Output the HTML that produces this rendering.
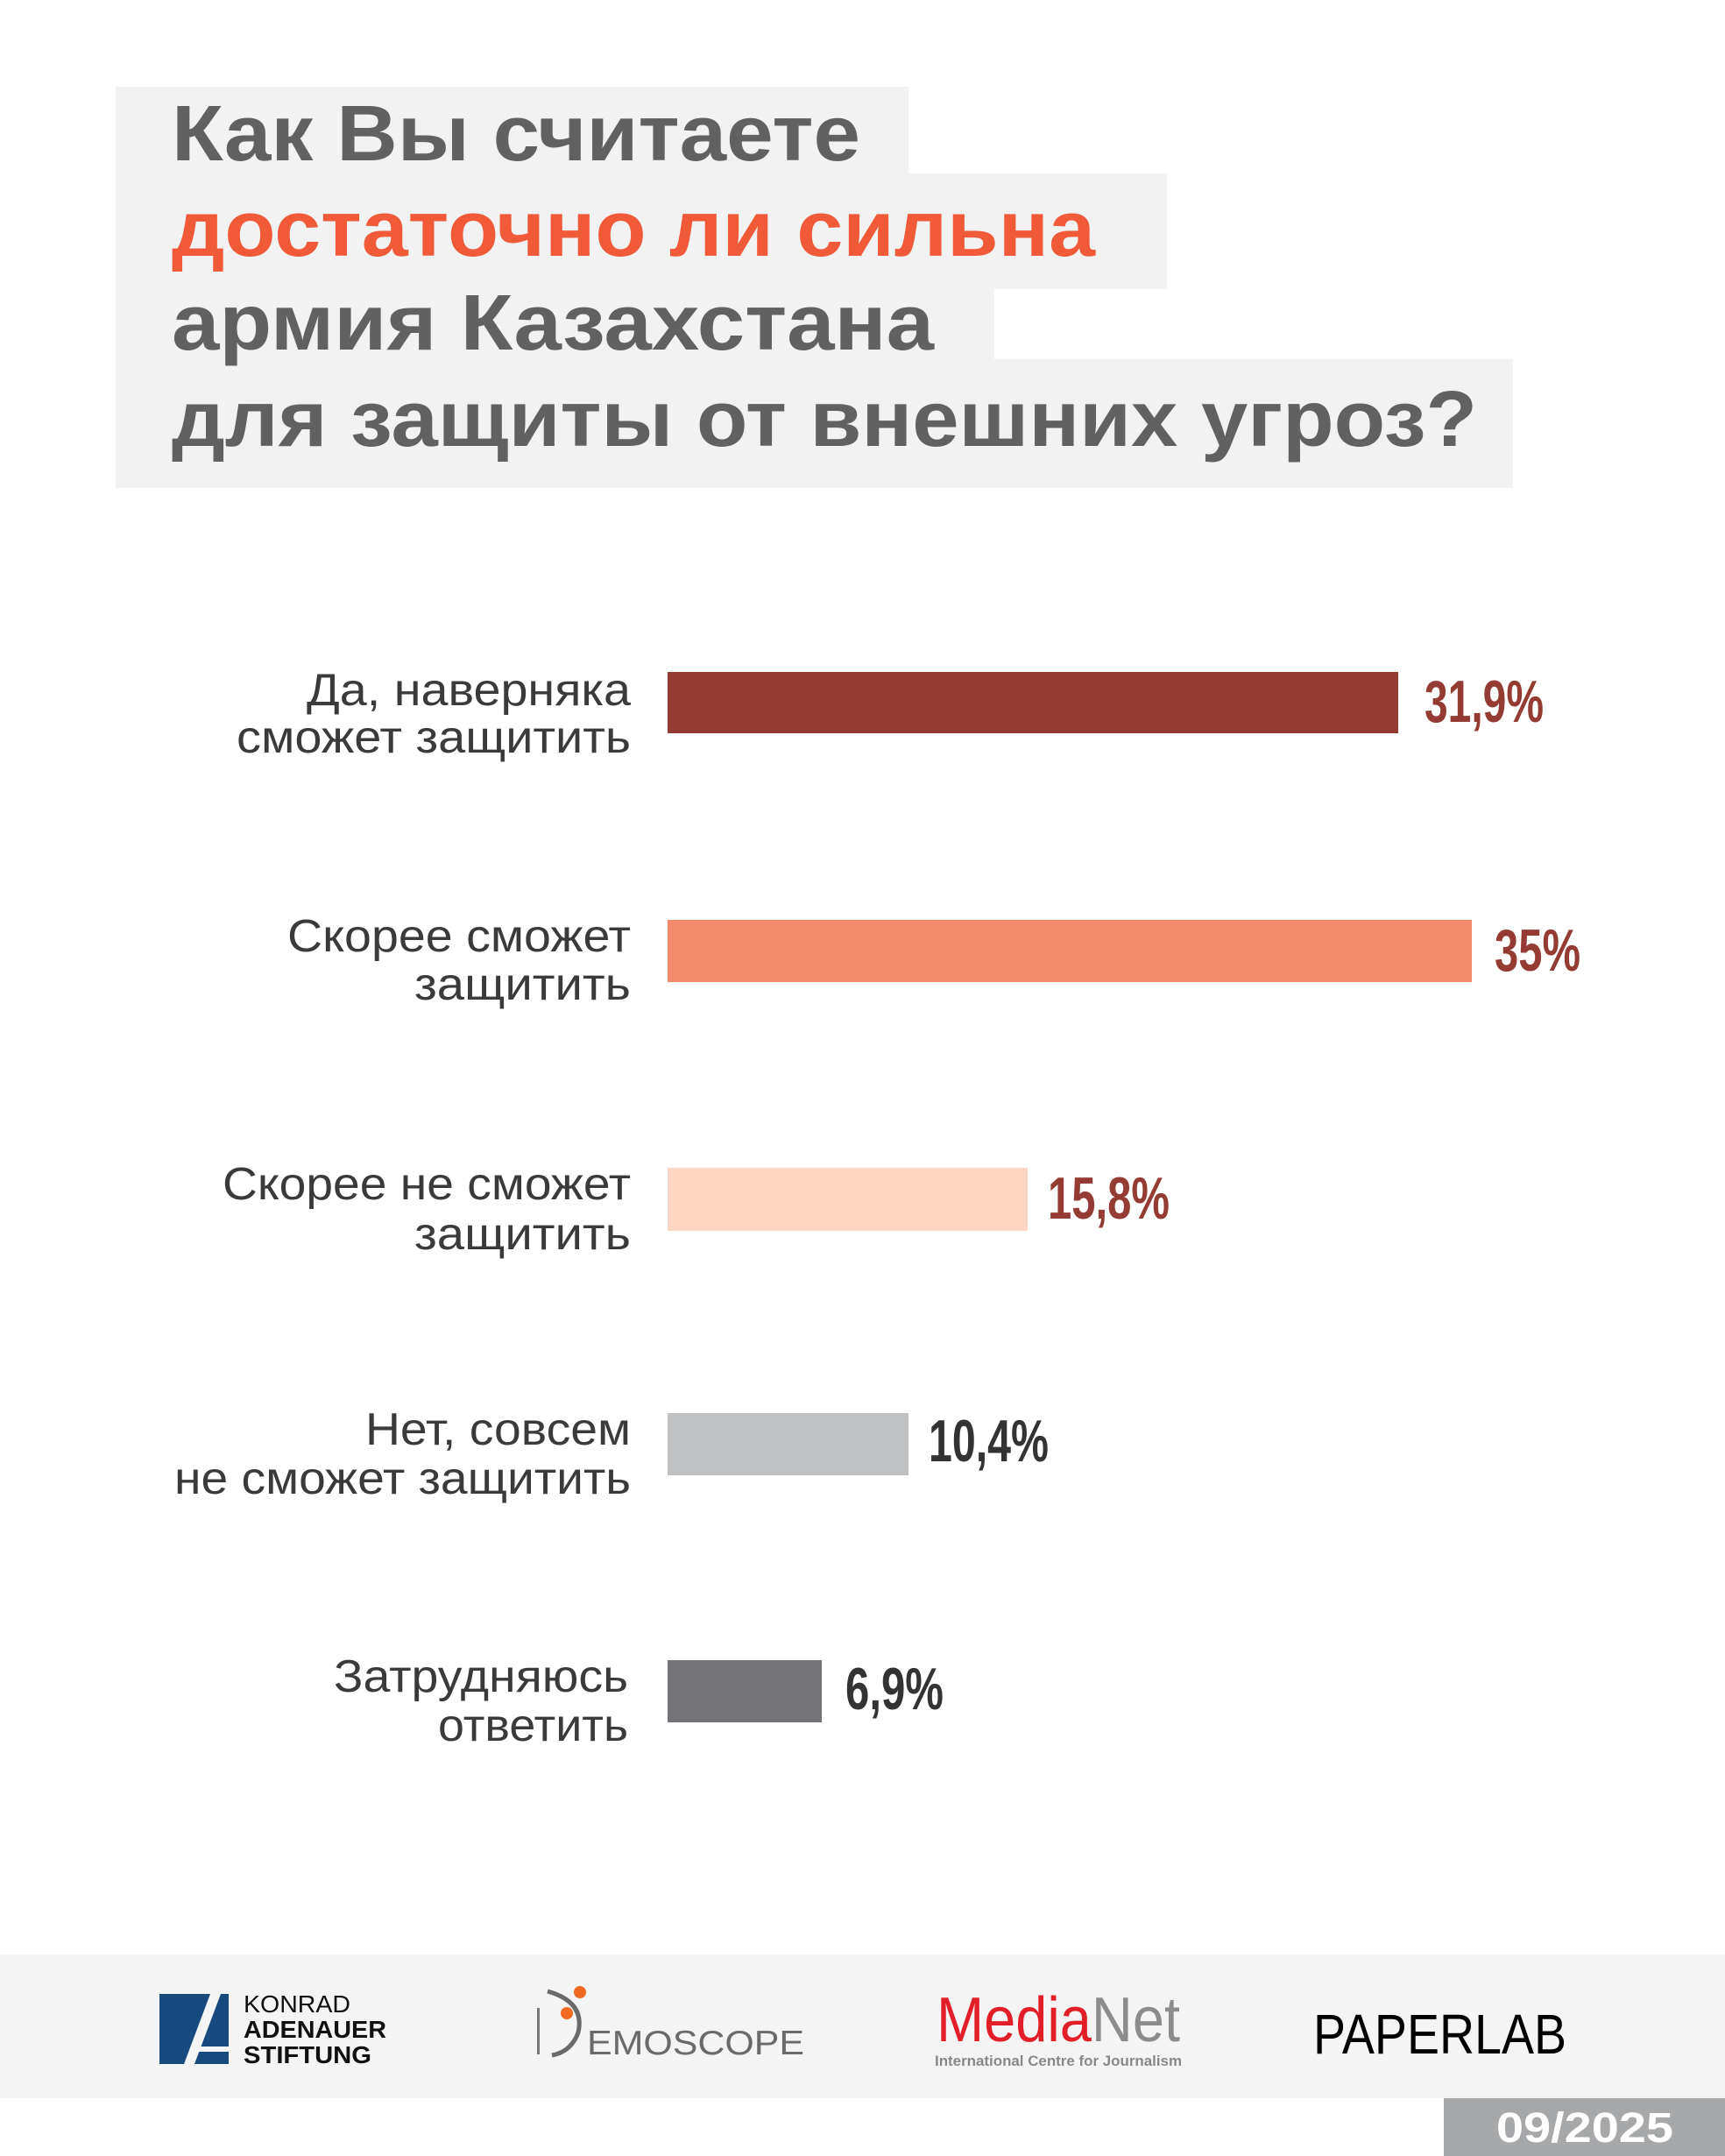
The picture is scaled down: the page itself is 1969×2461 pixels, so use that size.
<!DOCTYPE html>
<html><head><meta charset="utf-8"><style>
html,body{margin:0;padding:0;background:#fff;}
svg{display:block;}
</style></head><body>
<svg width="1969" height="2461" viewBox="0 0 1969 2461" xmlns="http://www.w3.org/2000/svg">
<rect width="1969" height="2461" fill="#fff"/>
<!-- title background -->
<rect x="132" y="99" width="905" height="100" fill="#f1f2f1"/>
<rect x="132" y="198" width="1200" height="132" fill="#f1f2f1"/>
<rect x="132" y="329" width="1003" height="82" fill="#f1f2f1"/>
<rect x="132" y="410" width="1595" height="147" fill="#f1f2f1"/>
<g font-family="'Liberation Sans', sans-serif" font-weight="bold" font-size="90">
<text x="196" y="183" fill="#616161" textLength="786" lengthAdjust="spacingAndGlyphs">Как Вы считаете</text>
<text x="196" y="292" fill="#f05a38" textLength="1054" lengthAdjust="spacingAndGlyphs">достаточно ли сильна</text>
<text x="196" y="399" fill="#616161" textLength="870" lengthAdjust="spacingAndGlyphs">армия Казахстана</text>
<text x="196" y="509" fill="#616161" textLength="1490" lengthAdjust="spacingAndGlyphs">для защиты от внешних угроз?</text>
</g>
<!-- bars -->
<rect x="762" y="767" width="834" height="70" fill="#943c33"/>
<rect x="762" y="1050" width="918" height="71" fill="#f48a6c"/>
<rect x="762" y="1333" width="411" height="72" fill="#fdd5c3"/>
<rect x="762" y="1613" width="275" height="71" fill="#bfc0c2"/>
<rect x="762" y="1895" width="176" height="71" fill="#737377"/>
<!-- labels -->
<g font-family="'Liberation Sans', sans-serif" font-size="52" fill="#3a3a3a" text-anchor="end">
<text x="720" y="805" textLength="370" lengthAdjust="spacingAndGlyphs">Да, наверняка</text>
<text x="720" y="859" textLength="450" lengthAdjust="spacingAndGlyphs">сможет защитить</text>
<text x="720" y="1086" textLength="392" lengthAdjust="spacingAndGlyphs">Скорее сможет</text>
<text x="720" y="1141" textLength="247" lengthAdjust="spacingAndGlyphs">защитить</text>
<text x="720" y="1369" textLength="466" lengthAdjust="spacingAndGlyphs">Скорее не сможет</text>
<text x="720" y="1426" textLength="247" lengthAdjust="spacingAndGlyphs">защитить</text>
<text x="720" y="1649" textLength="303" lengthAdjust="spacingAndGlyphs">Нет, совсем</text>
<text x="720" y="1705" textLength="521" lengthAdjust="spacingAndGlyphs">не сможет защитить</text>
<text x="717" y="1931" textLength="336" lengthAdjust="spacingAndGlyphs">Затрудняюсь</text>
<text x="717" y="1987" textLength="217" lengthAdjust="spacingAndGlyphs">ответить</text>
</g>
<!-- values -->
<g font-family="'Liberation Sans', sans-serif" font-weight="bold" font-size="68">
<text x="1626" y="824" fill="#943c33" textLength="136" lengthAdjust="spacingAndGlyphs">31,9%</text>
<text x="1706" y="1108" fill="#943c33" textLength="98" lengthAdjust="spacingAndGlyphs">35%</text>
<text x="1196" y="1391" fill="#943c33" textLength="139" lengthAdjust="spacingAndGlyphs">15,8%</text>
<text x="1060" y="1668" fill="#333" textLength="137" lengthAdjust="spacingAndGlyphs">10,4%</text>
<text x="965" y="1951" fill="#333" textLength="112" lengthAdjust="spacingAndGlyphs">6,9%</text>
</g>
<!-- footer -->
<rect x="0" y="2231" width="1969" height="164" fill="#f4f4f4"/>
<rect x="1648" y="2395" width="321" height="66" fill="#a7a8aa"/>
<text x="1708" y="2445" font-family="'Liberation Sans', sans-serif" font-weight="bold" font-size="48" fill="#fff" textLength="202" lengthAdjust="spacingAndGlyphs">09/2025</text>
<!-- KAS -->
<rect x="182" y="2276" width="79" height="80" fill="#174a7f"/>
<polygon points="240,2276 252,2276 222,2356 210,2356" fill="#f4f4f4"/>
<rect x="226" y="2336" width="35" height="6" fill="#f4f4f4"/>
<g font-family="'Liberation Sans', sans-serif" font-size="28" fill="#111">
<text x="278" y="2297" textLength="122" lengthAdjust="spacingAndGlyphs">KONRAD</text>
<text x="278" y="2326" font-weight="bold" textLength="163" lengthAdjust="spacingAndGlyphs">ADENAUER</text>
<text x="278" y="2355" font-weight="bold" textLength="146" lengthAdjust="spacingAndGlyphs">STIFTUNG</text>
</g>
<!-- Demoscope -->
<rect x="613" y="2292" width="3" height="53" fill="#777"/>
<path d="M625,2273 Q668,2285 660,2320 Q652,2342 630,2346" fill="none" stroke="#6a6a6a" stroke-width="5"/>
<circle cx="662" cy="2274" r="7" fill="#f26a21"/>
<circle cx="647" cy="2298" r="7" fill="#f26a21"/>
<text x="670" y="2345" font-family="'Liberation Sans', sans-serif" font-size="39" fill="#6a6a6a" textLength="248" lengthAdjust="spacingAndGlyphs">EMOSCOPE</text>
<!-- MediaNet -->
<text x="1069" y="2330" font-family="'Liberation Sans', sans-serif" font-size="72" textLength="278" lengthAdjust="spacingAndGlyphs"><tspan fill="#e21e26">Media</tspan><tspan fill="#8c8c8c">Net</tspan></text>
<text x="1067" y="2358" font-family="'Liberation Sans', sans-serif" font-weight="bold" font-size="17" fill="#888" textLength="282" lengthAdjust="spacingAndGlyphs">International Centre for Journalism</text>
<!-- PAPERLAB -->
<text x="1499" y="2344" font-family="'Liberation Sans', sans-serif" font-size="64" fill="#000" textLength="289" lengthAdjust="spacingAndGlyphs">PAPERLAB</text>
</svg>
</body></html>
